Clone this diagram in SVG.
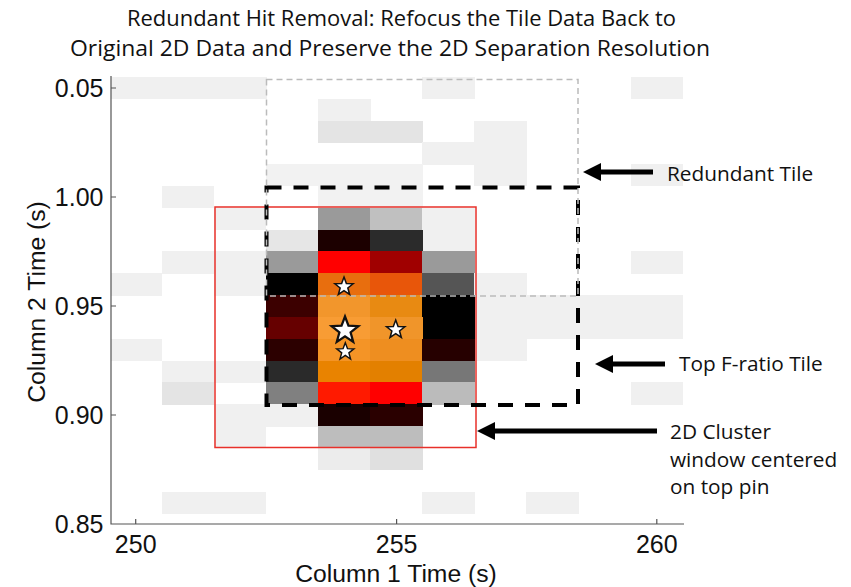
<svg xmlns="http://www.w3.org/2000/svg" xmlns:xlink="http://www.w3.org/1999/xlink" width="851" height="587" viewBox="0 0 851 587">
<style>
.title{font-family:"Open Sans","Liberation Sans",sans-serif;font-size:22.5px;fill:#111;text-anchor:middle}
.ann{font-family:"Open Sans","Liberation Sans",sans-serif;font-size:20.8px;fill:#111}
.tl{font-family:"Liberation Sans",Arial,sans-serif;font-size:25px;fill:#111}
.axl{font-family:"Liberation Sans",Arial,sans-serif;font-size:24.7px;fill:#111;text-anchor:middle}
.axis{stroke:#555;stroke-width:1.2;fill:none}
.arrow{stroke:#000;stroke-width:5;fill:none}
.star{fill:#fff;stroke:#111;stroke-width:1.6}
.cells rect{shape-rendering:crispEdges}
</style>
<defs>
<marker id="ah" markerUnits="userSpaceOnUse" markerWidth="20" markerHeight="20" refX="0" refY="9" orient="auto">
<path d="M0,0 L18,9 L0,18 Z" fill="#000"/>
</marker>
<path id="star" d="M0,-10 L2.469,-3.398 L9.511,-3.09 L3.995,1.298 L5.878,8.09 L0,4.2 L-5.878,8.09 L-3.995,1.298 L-9.511,-3.09 L-2.469,-3.398 Z"/>
</defs>
<rect width="851" height="587" fill="#fff"/>

<g id="title">
<text class="title" x="401.5" y="26" textLength="549" lengthAdjust="spacingAndGlyphs">Redundant Hit Removal: Refocus the Tile Data Back to</text>
<text class="title" x="390" y="56" textLength="640" lengthAdjust="spacingAndGlyphs">Original 2D Data and Preserve the 2D Separation Resolution</text>
</g>

<g id="heatmap" class="cells">
<rect x="111" y="77" width="155.5" height="22" fill="#f0f0f0"/>
<rect x="422.2" y="77" width="52.6" height="22" fill="#f0f0f0"/>
<rect x="630.6" y="77" width="52.4" height="22" fill="#f0f0f0"/>
<rect x="318" y="98.6" width="52.6" height="22.3" fill="#f0f0f0"/>
<rect x="318" y="120.5" width="104.6" height="22.2" fill="#e4e4e4"/>
<rect x="474.3" y="120.5" width="52.6" height="65.8" fill="#f0f0f0"/>
<rect x="422.2" y="142.3" width="52.6" height="22.2" fill="#f0f0f0"/>
<rect x="265.9" y="164.1" width="156.7" height="22.3" fill="#f2f2f2"/>
<rect x="630.6" y="164.1" width="52.4" height="22.3" fill="#f0f0f0"/>
<rect x="161.7" y="186" width="52.6" height="22.2" fill="#f0f0f0"/>
<rect x="318" y="186" width="104.6" height="22.2" fill="#f2f2f2"/>
<rect x="213.8" y="207.8" width="52.6" height="22.2" fill="#f0f0f0"/>
<rect x="318" y="207.8" width="52.6" height="22.2" fill="#9a9a9a"/>
<rect x="370.1" y="207.8" width="52.6" height="22.2" fill="#c0c0c0"/>
<rect x="422.2" y="207.8" width="52.6" height="43.9" fill="#f0f0f0"/>
<rect x="265.9" y="229.6" width="52.6" height="22.2" fill="#e6e6e6"/>
<rect x="318" y="229.6" width="52.6" height="22.2" fill="#1c0000"/>
<rect x="370.1" y="229.6" width="52.6" height="22.2" fill="#2b2b2b"/>
<rect x="161.7" y="251.4" width="104.6" height="22.3" fill="#f0f0f0"/>
<rect x="265.9" y="251.4" width="52.6" height="22.3" fill="#9a9a9a"/>
<rect x="318" y="251.4" width="52.6" height="22.3" fill="#ff0000"/>
<rect x="370.1" y="251.4" width="52.6" height="22.3" fill="#a00000"/>
<rect x="422.2" y="251.4" width="52.6" height="22.3" fill="#9a9a9a"/>
<rect x="630.6" y="251.4" width="52.4" height="22.3" fill="#f0f0f0"/>
<rect x="111" y="273.3" width="51.2" height="22.2" fill="#f0f0f0"/>
<rect x="213.8" y="273.3" width="52.6" height="22.2" fill="#f0f0f0"/>
<rect x="265.9" y="273.3" width="52.6" height="22.2" fill="#000000"/>
<rect x="318" y="273.3" width="52.6" height="22.2" fill="#e86e0e"/>
<rect x="370.1" y="273.3" width="52.6" height="22.2" fill="#e8560a"/>
<rect x="422.2" y="273.3" width="52.6" height="22.2" fill="#555555"/>
<rect x="474.3" y="273.3" width="52.6" height="87.7" fill="#f0f0f0"/>
<rect x="265.9" y="295.1" width="52.6" height="22.2" fill="#3c0000"/>
<rect x="318" y="295.1" width="52.6" height="22.2" fill="#f2962c"/>
<rect x="370.1" y="295.1" width="52.6" height="22.2" fill="#e88a12"/>
<rect x="422.2" y="295.1" width="52.6" height="44.1" fill="#000000"/>
<rect x="526.4" y="295.1" width="156.6" height="44.1" fill="#f0f0f0"/>
<rect x="265.9" y="316.9" width="52.6" height="22.3" fill="#660000"/>
<rect x="318" y="316.9" width="52.6" height="22.3" fill="#f89c34"/>
<rect x="370.1" y="316.9" width="52.6" height="22.3" fill="#f0952a"/>
<rect x="111" y="338.8" width="51.2" height="22.2" fill="#f0f0f0"/>
<rect x="265.9" y="338.8" width="52.6" height="22.2" fill="#2c0000"/>
<rect x="318" y="338.8" width="52.6" height="22.2" fill="#f49426"/>
<rect x="370.1" y="338.8" width="52.6" height="22.2" fill="#ee8e20"/>
<rect x="422.2" y="338.8" width="52.6" height="22.2" fill="#260000"/>
<rect x="161.7" y="360.6" width="104.6" height="22.2" fill="#f0f0f0"/>
<rect x="265.9" y="360.6" width="52.6" height="22.2" fill="#2a2a2a"/>
<rect x="318" y="360.6" width="52.6" height="22.2" fill="#e98300"/>
<rect x="370.1" y="360.6" width="52.6" height="22.2" fill="#e38000"/>
<rect x="422.2" y="360.6" width="52.6" height="22.2" fill="#777777"/>
<rect x="161.7" y="382.4" width="52.6" height="22.3" fill="#e4e4e4"/>
<rect x="265.9" y="382.4" width="52.6" height="22.3" fill="#808080"/>
<rect x="318" y="382.4" width="52.6" height="22.3" fill="#ff1a00"/>
<rect x="370.1" y="382.4" width="52.6" height="22.3" fill="#ff0000"/>
<rect x="422.2" y="382.4" width="52.6" height="22.3" fill="#bbbbbb"/>
<rect x="630.6" y="382.4" width="52.4" height="22.3" fill="#f0f0f0"/>
<rect x="213.8" y="404.3" width="104.6" height="22.2" fill="#f0f0f0"/>
<rect x="318" y="404.3" width="52.6" height="22.2" fill="#1a0000"/>
<rect x="370.1" y="404.3" width="52.6" height="22.2" fill="#2a0000"/>
<rect x="213.8" y="426.1" width="52.6" height="22.2" fill="#f0f0f0"/>
<rect x="318" y="426.1" width="104.6" height="22.2" fill="#bdbdbd"/>
<rect x="318" y="447.9" width="52.6" height="22.2" fill="#ececec"/>
<rect x="370.1" y="447.9" width="52.6" height="22.2" fill="#e0e0e0"/>
<rect x="161.7" y="491.6" width="104.6" height="22.2" fill="#f0f0f0"/>
<rect x="422.2" y="491.6" width="52.6" height="22.2" fill="#f0f0f0"/>
<rect x="526.4" y="491.6" width="52.6" height="22.2" fill="#f0f0f0"/>
</g>

<g id="axes">
<path class="axis" d="M111,76 V524 H684"/>
<path class="axis" d="M111,88 H116 M111,197 H116 M111,306 H116 M111,415 H116 M135.7,524 V519 M396.6,524 V519 M656.8,524 V519"/>
<g class="tl" text-anchor="end">
<text x="103.5" y="97">0.05</text>
<text x="103.5" y="206">1.00</text>
<text x="103.5" y="315">0.95</text>
<text x="103.5" y="424">0.90</text>
<text x="103.5" y="533">0.85</text>
</g>
<g class="tl" text-anchor="middle">
<text x="135.7" y="553">250</text>
<text x="396.6" y="553">255</text>
<text x="656.8" y="553">260</text>
</g>
<text class="axl" x="396" y="582">Column 1 Time (s)</text>
<text class="axl" transform="translate(45,302) rotate(-90)">Column 2 Time (s)</text>
</g>

<g id="cluster-window">
<rect x="215" y="207" width="261" height="240.5" fill="none" stroke="#e8302a" stroke-width="1.5"/>
</g>

<g id="top-f-ratio-tile">
<rect x="266.5" y="187.5" width="311.5" height="217.5" fill="none" stroke="#000" stroke-width="4" stroke-dasharray="15 12"/>
</g>

<g id="redundant-tile">
<rect x="266.5" y="79.5" width="311.5" height="216.5" fill="none" stroke="#bbbbbb" stroke-width="1.5" stroke-dasharray="6 4"/>
</g>

<g id="pins">
<use xlink:href="#star" class="star" transform="translate(344,286.7) scale(0.96)" vector-effect="non-scaling-stroke"/>
<use xlink:href="#star" class="star" transform="translate(345,330.5) scale(1.4)" vector-effect="non-scaling-stroke"/>
<use xlink:href="#star" class="star" transform="translate(345.3,351.7) scale(0.9)" vector-effect="non-scaling-stroke"/>
<use xlink:href="#star" class="star" transform="translate(395.7,329.7) scale(0.96)" vector-effect="non-scaling-stroke"/>
</g>

<g id="connectors">
<line class="arrow" x1="653" y1="172" x2="601" y2="172" marker-end="url(#ah)"/>
<line class="arrow" x1="665" y1="364" x2="613" y2="364" marker-end="url(#ah)"/>
<line class="arrow" x1="657" y1="431" x2="495" y2="431" marker-end="url(#ah)"/>
</g>

<g id="label-redundant">
<text class="ann" x="667" y="181">Redundant Tile</text>
</g>
<g id="label-top">
<text class="ann" x="679" y="371">Top F-ratio Tile</text>
</g>
<g id="label-cluster">
<text class="ann" x="670" y="439">2D Cluster</text>
<text class="ann" x="670" y="467">window centered</text>
<text class="ann" x="670" y="494">on top pin</text>
</g>
</svg>
